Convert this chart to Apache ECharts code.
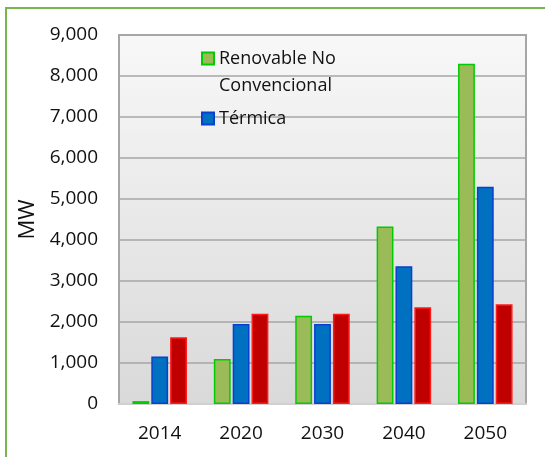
<!DOCTYPE html>
<html>
<head>
<meta charset="utf-8">
<script src="https://cdn.jsdelivr.net/npm/echarts@6/dist/echarts.min.js"></script>
<style>
html,body{margin:0;padding:0;background:#fff;}
#chart{width:545px;height:457px;}
</style>
</head>
<body>
<div id="chart"></div>
<script>
var categories = ['2014', '2020', '2030', '2040', '2050'];
var renovableNC = [70, 1100, 2150, 4330, 8300];
var termica = [1160, 1950, 1950, 3360, 5300];
var tercera = [1630, 2200, 2200, 2360, 2430];
var yTicks = [0, 1000, 2000, 3000, 4000, 5000, 6000, 7000, 8000, 9000];
var seriesNames = ['Renovable No\nConvencional', 'Térmica', 'Hidroeléctrica'];

var FONT = '"Open Sans", "Noto Sans", sans-serif';
var chart = echarts.init(document.getElementById('chart'), null, {renderer: 'canvas'});

function bar(name, data, fill, stroke) {
  return {
    name: name,
    type: 'bar',
    data: data,
    barGap: '12%',
    barCategoryGap: '33%',
    itemStyle: {color: fill, borderColor: stroke, borderWidth: 1.5},
    emphasis: {disabled: true}
  };
}

chart.setOption({
  animation: false,
  backgroundColor: '#ffffff',
  graphic: [{
    type: 'rect',
    shape: {x: 6, y: 8, width: 600, height: 500},
    style: {fill: 'none', stroke: '#79b54f', lineWidth: 2},
    silent: true,
    z: 0
  }],
  grid: {
    left: 119, top: 35, right: 19, bottom: 53,
    show: true,
    borderColor: '#a6a6a6',
    borderWidth: 2,
    backgroundColor: {
      type: 'linear', x: 0, y: 0, x2: 0, y2: 1,
      colorStops: [{offset: 0, color: '#f8f8f8'}, {offset: 1, color: '#d9d9d9'}]
    }
  },
  legend: {
    orient: 'vertical',
    left: 201,
    top: 18,
    padding: 0,
    icon: 'rect',
    itemWidth: 12,
    itemHeight: 12,
    itemGap: 6,
    data: [seriesNames[0], seriesNames[1]],
    formatter: function (name) {
      return name.indexOf('\n') >= 0 ? '\n' + name : name;
    },
    textStyle: {
      fontFamily: FONT, fontSize: 18, color: '#111111', lineHeight: 27
    },
    selectedMode: false
  },
  xAxis: {
    type: 'category',
    data: categories,
    axisLine: {show: true, lineStyle: {color: '#d0d0d0', width: 2}},
    axisTick: {show: false},
    axisLabel: {fontFamily: FONT, fontSize: 19, color: '#111111', margin: 20}
  },
  yAxis: {
    type: 'value',
    min: yTicks[0],
    max: yTicks[yTicks.length - 1],
    interval: 1000,
    name: 'MW',
    nameLocation: 'middle',
    nameRotate: 90,
    nameGap: 72,
    nameTextStyle: {fontFamily: FONT, fontSize: 22, color: '#111111'},
    axisLine: {show: false},
    axisTick: {show: false},
    splitLine: {show: true, lineStyle: {color: '#a6a6a6', width: 1.5}},
    axisLabel: {
      fontFamily: FONT, fontSize: 19, color: '#111111', margin: 21,
      formatter: function (v) { return v.toLocaleString('en-US'); }
    }
  },
  series: [
    bar(seriesNames[0], renovableNC, '#9bbb59', '#00cc00'),
    bar(seriesNames[1], termica, '#0070c0', '#0a3fd0'),
    bar(seriesNames[2], tercera, '#c00000', '#ff1a1a')
  ]
});
</script>
</body>
</html>
